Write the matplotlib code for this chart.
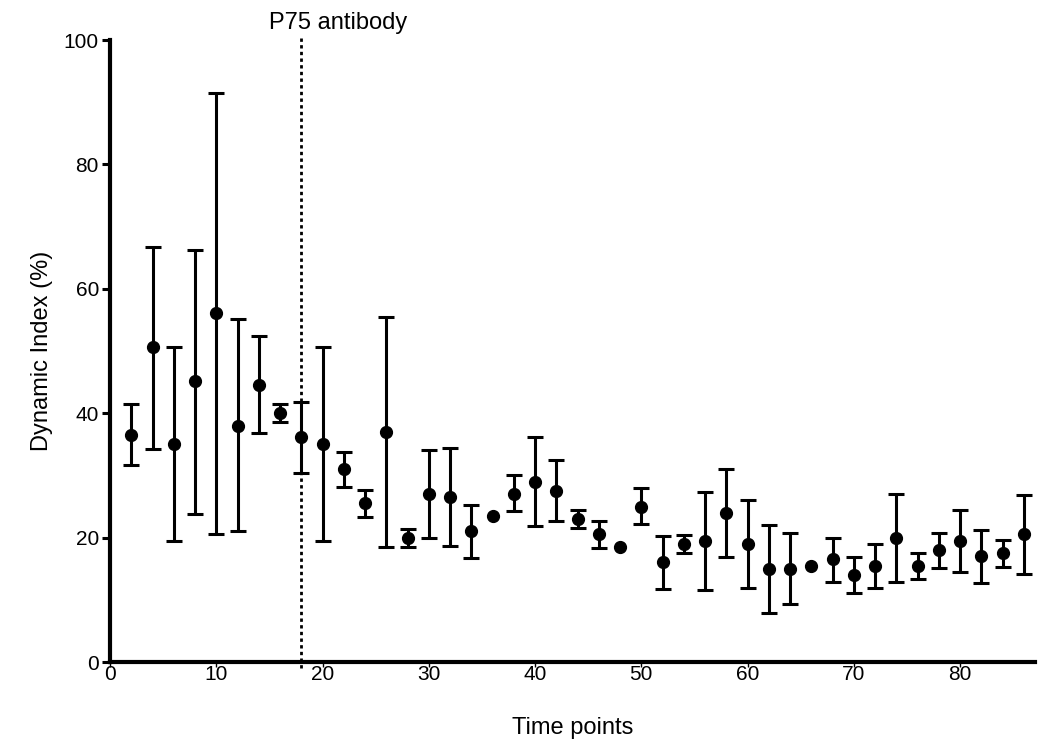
import matplotlib
matplotlib.use("Agg")
import matplotlib.pyplot as plt

plt.rcParams['font.family'] = ['Liberation Sans', 'DejaVu Sans']

time_points = [2, 4, 6, 8, 10, 12, 14, 16, 18, 20, 22, 24, 26, 28, 30, 32, 34, 36, 38, 40, 42, 44,
               46, 48, 50, 52, 54, 56, 58, 60, 62, 64, 66, 68, 70, 72, 74, 76, 78, 80, 82, 84, 86]
means = [36.5, 50.6, 35.0, 45.1, 56.1, 38.0, 44.6, 40.0, 36.1, 35.0, 31.0, 25.5, 37.0, 20.0, 27.0,
         26.5, 21.0, 23.5, 27.0, 29.0, 27.5, 23.0, 20.5, 18.5, 25.0, 16.0, 19.0, 19.5, 24.0, 19.0,
         15.0, 15.0, 15.5, 16.5, 14.0, 15.5, 20.0, 15.5, 18.0, 19.5, 17.0, 17.5, 20.5]
upper = [41.5, 66.8, 50.6, 66.3, 91.4, 55.1, 52.4, 41.5, 41.8, 50.6, 33.8, 27.6, 55.5, 21.4, 34.1,
         34.4, 25.3, 23.5, 30.0, 36.1, 32.5, 24.4, 22.6, 18.5, 27.9, 20.3, 20.4, 27.3, 31.0, 26.0,
         22.0, 20.7, 15.5, 20.0, 16.9, 19.0, 27.0, 17.6, 20.8, 24.5, 21.3, 19.6, 26.8]
lower = [31.6, 34.2, 19.5, 23.8, 20.6, 21.1, 36.8, 38.6, 30.4, 19.5, 28.2, 23.3, 18.5, 18.5, 19.9,
         18.7, 16.7, 23.5, 24.2, 21.8, 22.6, 21.5, 18.3, 18.5, 22.2, 11.7, 17.5, 11.6, 16.9, 11.9,
         7.8, 9.3, 15.5, 12.9, 11.1, 11.9, 12.8, 13.3, 15.1, 14.5, 12.7, 15.3, 14.1]
x_ticks = [0, 10, 20, 30, 40, 50, 60, 70, 80]
y_ticks = [0, 20, 40, 60, 80, 100]
antibody_time = 18
antibody_label = "P75 antibody"

fig = plt.figure(figsize=(10.38, 7.40), dpi=100)
ax = fig.add_axes([110 / 1038, 1 - 662 / 740, (1034.5 - 110) / 1038, (662 - 40) / 740])

# points with an error range
bx, bm, bl, bu = [], [], [], []
for t, m, l, u in zip(time_points, means, lower, upper):
    if u - l > 0.01:
        bx.append(t)
        bm.append(m)
        bl.append(m - l)
        bu.append(u - m)
ax.errorbar(bx, bm, yerr=[bl, bu], fmt='none', ecolor='black',
            elinewidth=2.2, capsize=5.5, capthick=2.2, clip_on=False, zorder=3)
ax.plot(time_points, means, 'o', color='black', markersize=8.5, clip_on=False, zorder=4)

ax.plot([antibody_time, antibody_time], [-1.0, 100.5], color='black', linestyle=(0, (1.2, 1.2)),
        linewidth=2.0, clip_on=False, zorder=2)
ax.text(21.5, 102.7, antibody_label, ha='center', va='center', fontsize=17)

ax.set_xlim(0, 87)
ax.set_ylim(0, 100)
ax.set_xticks(x_ticks)
ax.set_yticks(y_ticks)
ax.set_xticklabels([str(t) for t in x_ticks])
ax.set_yticklabels([str(t) for t in y_ticks])

for s in ['top', 'right']:
    ax.spines[s].set_visible(False)
for s in ['left', 'bottom']:
    ax.spines[s].set_linewidth(3.0)

ax.tick_params(axis='y', direction='out', length=6, width=2.2, labelsize=15, pad=2)
ax.tick_params(axis='x', direction='out', length=3.5, width=1.0, labelsize=15, pad=-1.5)

ax.set_ylabel("Dynamic Index (%)", fontsize=17, labelpad=8)
ax.set_xlabel("Time points", fontsize=17, labelpad=24)

fig.savefig("out.png", dpi=100)
